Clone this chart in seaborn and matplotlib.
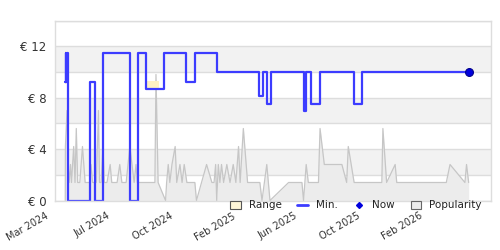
import numpy as np
import pandas as pd
import matplotlib
matplotlib.use("Agg")
import matplotlib.pyplot as plt
import seaborn as sns
from matplotlib.patches import Patch
from matplotlib.lines import Line2D
from matplotlib.transforms import ScaledTranslation

# ---- data (x values are days since 2024-03-10) ----
BASE = pd.Timestamp("2024-03-10")

min_day = [29, 30, 31, 32, 33, 34, 75, 84, 99, 150, 166, 180, 215, 255, 272, 314,
           393, 400, 407, 414, 476, 480, 490, 506, 570, 585, 786]
min_price = [9.25, 11.49, 9.25, 11.49, 9.25, 0.0, 9.25, 0.0, 11.49, 0.0, 11.49, 8.69,
             11.49, 9.25, 11.49, 9.99, 8.09, 9.99, 7.49, 9.99, 6.99, 9.99, 7.49, 9.99,
             7.49, 9.99, 9.99]

pop_day = [28.7, 29, 32, 34, 36, 38.5, 40.4, 44.5, 47, 49.4, 52, 56, 61, 66, 75, 77, 80,
           87, 88, 91, 93, 96, 99.5, 102, 107, 113, 116, 126, 131, 135, 143, 150, 158,
           161.5, 164, 197, 199, 203, 217, 219, 222, 225, 229, 235, 238, 244, 248, 252,
           257, 272, 275, 294, 304, 308, 311, 313, 316, 319, 322, 326, 332, 338, 344,
           349, 354, 357, 363, 371, 394, 398, 407, 413, 448, 473, 476, 481, 485, 504,
           507, 515, 548, 557, 560, 571, 623, 625, 632, 648, 651, 744, 751, 779, 782, 786]
pop_value = [0.0, 4.2, 7.0, 2.8, 1.4, 2.8, 1.4, 4.2, 1.4, 5.6, 1.4, 1.4, 4.2, 1.4, 1.4,
             2.8, 1.4, 1.4, 2.8, 7.0, 1.4, 1.4, 4.2, 1.4, 1.4, 2.8, 1.4, 1.4, 2.8, 1.4,
             1.4, 4.2, 1.4, 2.8, 1.4, 1.4, 9.8, 1.4, 0.0, 1.4, 2.8, 1.4, 2.8, 4.2, 1.4,
             2.8, 1.4, 2.8, 1.4, 1.4, 0.0, 2.8, 1.4, 1.4, 2.8, 0.0, 2.8, 1.4, 2.8, 1.4,
             2.8, 1.4, 2.8, 1.4, 4.2, 1.4, 5.6, 1.4, 1.4, 0.0, 2.8, 0.0, 1.4, 1.4, 0.0,
             2.8, 1.4, 1.4, 5.6, 2.8, 2.8, 1.4, 4.2, 1.4, 1.4, 5.6, 1.4, 2.8, 1.4, 1.4,
             2.8, 1.4, 2.8, 1.4]

range_day_start = [28, 180]
range_day_end = [31, 205]
range_low = [9.1, 8.75]
range_high = [11.6, 9.3]

now_day = 786
now_price = 9.99

tick_day = [0, 117, 234, 351, 468, 585, 702]
tick_labels = ["Mar 2024", "Jul 2024", "Oct 2024", "Feb 2025", "Jun 2025", "Oct 2025", "Feb 2026"]
y_ticks = [0, 4, 8, 12]
y_labels = ["€ 0", "€ 4", "€ 8", "€ 12"]

# ---- frames ----
to_date = lambda d: BASE + pd.to_timedelta(np.asarray(d, dtype=float), unit="D")
df_min = pd.DataFrame({"date": to_date(min_day), "price": min_price})
df_pop = pd.DataFrame({"date": to_date(pop_day), "pop": pop_value})
df_now = pd.DataFrame({"date": to_date([now_day]), "price": [now_price]})

sns.set_theme(style="white")
plt.rcParams["font.family"] = ["DejaVu Sans"]

fig = plt.figure(figsize=(5, 2.5), dpi=100)
ax = fig.add_axes([0.1106, 0.198, 0.8704, 0.72])

# alternating bands
for lo in [2, 6, 10]:
    ax.axhspan(lo, lo + 2, color="#f2f2f2", zorder=0, lw=0)
for y in range(0, 15, 2):
    ax.axhline(y, color="#dddddd", lw=1, zorder=0.5)

# popularity
ax.fill_between(df_pop["date"], 0, df_pop["pop"], color="#ececec", lw=0, zorder=1)
sns.lineplot(data=df_pop, x="date", y="pop", estimator=None, sort=False,
             color="#c6c6c6", lw=0.9, ax=ax, zorder=1.5)

# range
for s, e, lo, hi in zip(range_day_start, range_day_end, range_low, range_high):
    ax.fill_between(to_date([s, e]), lo, hi, color="#fff2c4", lw=0, zorder=1.8)

# min price
sns.lineplot(data=df_min, x="date", y="price", estimator=None, sort=False,
             drawstyle="steps-post", color="#3c3cff", lw=1.6, ax=ax, zorder=3)

# now
sns.scatterplot(data=df_now, x="date", y="price", color="#0000dd", edgecolor="#00008b",
                s=32, linewidth=0.8, ax=ax, zorder=4)

# axes
ax.set_xlim(to_date([10])[0], to_date([827])[0])
ax.set_ylim(0, 14)
ax.set_xlabel("")
ax.set_ylabel("")
ax.set_yticks(y_ticks)
ax.set_yticklabels(y_labels)
shift_days = 20
ax.set_xticks(to_date(np.array(tick_day) + shift_days))
ax.set_xticklabels(tick_labels, rotation=30, ha="right")
ax.tick_params(axis="y", length=0, pad=6.5, labelsize=8.5, labelcolor="#333333")
ax.tick_params(axis="x", length=0, pad=7.5, labelsize=7, labelcolor="#333333")
inch_per_day = 0.8704 * 5 / (827 - 10)
off = ScaledTranslation(-shift_days * inch_per_day, 0, fig.dpi_scale_trans)
for lbl in ax.get_xticklabels():
    lbl.set_transform(lbl.get_transform() + off)
for sp in ax.spines.values():
    sp.set_color("#dddddd")
    sp.set_linewidth(1)
    sp.set_zorder(5)

handles = [
    Patch(facecolor="#fdf5d8", edgecolor="#555555", lw=0.8),
    Line2D([0], [0], color="#3c3cff", lw=2),
    Line2D([0], [0], color="#0000dd", marker="D", ls="", markersize=3),
    Patch(facecolor="#ececec", edgecolor="#666666", lw=0.8),
]
fig.legend(handles, ["Range", "Min.", "Now", "Popularity"], loc="center",
           bbox_to_anchor=(0.712, 0.178), ncol=4, frameon=False, fontsize=7.5,
           handlelength=1.0, handleheight=0.8, handletextpad=0.8, columnspacing=1.5,
           labelcolor="#222222", borderpad=0)

fig.savefig("out.png", dpi=100)
